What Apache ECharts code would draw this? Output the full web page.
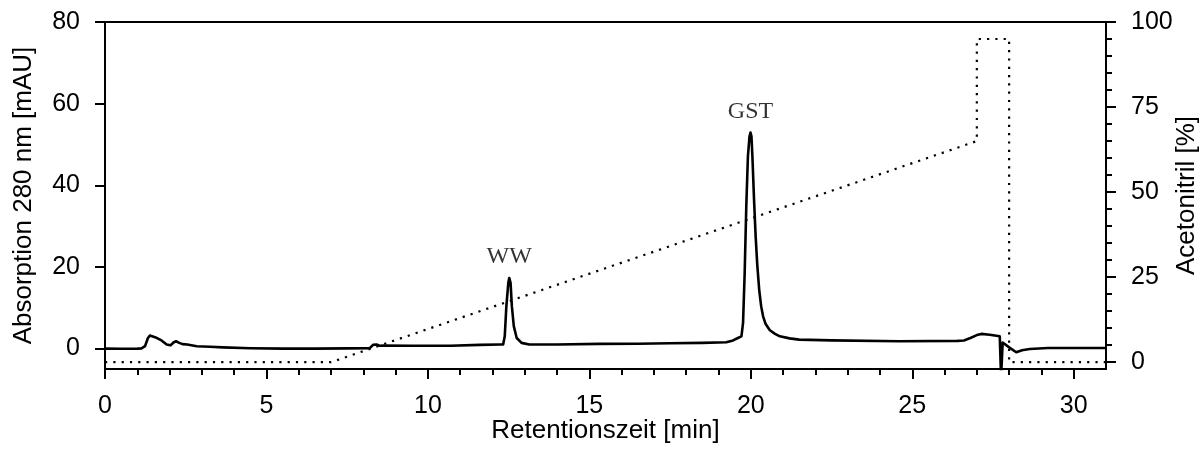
<!DOCTYPE html>
<html><head><meta charset="utf-8">
<script src="https://cdn.jsdelivr.net/npm/echarts@6/dist/echarts.min.js"></script>
<style>html,body{margin:0;padding:0;background:#fff}#c{width:1201px;height:452px}</style>
</head><body><div id="c"></div>
<script>
// Chromatogram trace: retention time [min] and absorption 280 nm [mAU]
const timeMin = [0,0.5,1.0,1.13,1.24,1.33,1.39,1.55,1.75,1.91,2.03,2.12,2.2,2.3,2.4,2.55,2.84,3.25,3.65,4.5,5.5,6.5,7.5,8.2,8.3,8.41,8.5,8.56,8.62,9.5,10.7,11.6,12.23,12.33,12.38,12.43,12.49,12.52,12.56,12.6,12.66,12.75,12.9,13.14,14.0,15.3,16.5,17.5,18.5,19.24,19.45,19.6,19.71,19.76,19.81,19.86,19.91,19.96,19.99,20.02,20.05,20.1,20.15,20.2,20.26,20.32,20.38,20.46,20.59,20.75,20.9,21.2,21.5,22.5,24.6,26.4,26.6,26.8,27.0,27.14,27.4,27.71,27.74,27.75,27.79,27.8,28.0,28.22,28.4,28.64,29.2,31];
const absorbance = [0,-0.05,0,0.05,0.6,2.6,3.2,2.8,2.0,1.0,0.8,1.5,1.8,1.4,1.1,1.0,0.57,0.45,0.3,0.1,0,0,0.05,0.1,0.9,1.0,0.7,1.1,0.75,0.7,0.7,0.9,1.0,1.0,3.0,10.4,16.1,17.3,16.1,10.4,5.5,2.6,1.4,1.0,1.0,1.15,1.2,1.3,1.4,1.55,2.0,2.6,3.0,6.3,18.5,34.8,47,52.0,52.9,52.0,47,36.5,27.5,20.5,14.4,10.4,7.9,6.0,4.5,3.6,3.0,2.5,2.2,2.0,1.8,1.9,2.0,2.6,3.3,3.6,3.4,3.0,3.0,-7,-7,1.5,0.3,-0.9,-0.4,-0.1,0.15,0.15];
// Gradient program: acetonitrile [%]
const gradTime = [0,7,27,27,28,28,31];
const gradPct = [0,0,65,95,95,0,0];
// Peak annotations
const peakNames = ['WW','GST'];
const peakTime = [12.52,19.99];
const peakAbs = [17.3,52.9];
// Tick values
const xMajorTicks = [0,5,10,15,20,25,30];
const xMinorTicks = [1,2,3,4,6,7,8,9,11,12,13,14,16,17,18,19,21,22,23,24,26,27,28,29];
const leftTicks = [0,20,40,60,80];
const rightTicks = [0,25,50,75,100];
const rightMinorTicks = [5,10,15,20,30,35,40,45,55,60,65,70,80,85,90,95];

const SANS = 'Liberation Sans, Arial, sans-serif';
const black = '#000';
const lineSt = {color: black, width: 2};

const chart = echarts.init(document.getElementById('c'), null, {renderer: 'canvas'});
chart.setOption({
  animation: false,
  backgroundColor: '#fff',
  grid: {left: 105, right: 95, top: 22, bottom: 83, show: true, borderColor: black, borderWidth: 2, outerBoundsMode: 'none', containLabel: false},
  xAxis: [
    {type: 'value', position: 'bottom', min: 0, max: 31,
     axisLine: {show: true, onZero: false, lineStyle: lineSt},
     axisTick: {show: true, inside: false, customValues: xMajorTicks, length: 10, lineStyle: lineSt},
     axisLabel: {show: true, customValues: xMajorTicks, margin: 25, fontSize: 25, color: black, fontFamily: SANS},
     splitLine: {show: false},
     name: 'Retentionszeit [min]', nameLocation: 'middle', nameGap: 49, nameMoveOverlap: false,
     nameTextStyle: {fontSize: 26, color: black, fontFamily: SANS}},
    {type: 'value', position: 'bottom', min: 0, max: 31,
     axisLine: {show: false, onZero: false},
     axisTick: {show: true, inside: false, customValues: xMinorTicks, length: 6, lineStyle: lineSt},
     axisLabel: {show: false}, splitLine: {show: false}}
  ],
  yAxis: [
    {type: 'value', position: 'left', min: -5, max: 80,
     axisLine: {show: true, onZero: false, lineStyle: lineSt},
     axisTick: {show: true, inside: false, customValues: leftTicks, length: 10, lineStyle: lineSt},
     axisLabel: {show: true, customValues: leftTicks, margin: 25, fontSize: 25, color: black, fontFamily: SANS},
     splitLine: {show: false},
     name: 'Absorption 280 nm [mAU]', nameLocation: 'middle', nameGap: 68, nameMoveOverlap: false,
     nameTextStyle: {fontSize: 26, color: black, fontFamily: SANS}},
    {type: 'value', position: 'right', min: -2, max: 100,
     axisLine: {show: true, onZero: false, lineStyle: lineSt},
     axisTick: {show: true, inside: false, customValues: rightTicks, length: 10, lineStyle: lineSt},
     axisLabel: {show: true, customValues: rightTicks, margin: 25, fontSize: 25, color: black, fontFamily: SANS},
     splitLine: {show: false},
     name: 'Acetonitril [%]', nameLocation: 'middle', nameGap: 68, nameMoveOverlap: false,
     nameTextStyle: {fontSize: 26, color: black, fontFamily: SANS}},
    {type: 'value', position: 'right', min: -2, max: 100,
     axisLine: {show: false, onZero: false},
     axisTick: {show: true, inside: false, customValues: rightMinorTicks, length: 6, lineStyle: lineSt},
     axisLabel: {show: false}, splitLine: {show: false}}
  ],
  series: [
    {type: 'line', xAxisIndex: 0, yAxisIndex: 1, showSymbol: false, symbol: 'none',
     data: gradTime.map((t, i) => [t, gradPct[i]]),
     lineStyle: {color: black, width: 2.2, type: [2.2, 6.1], cap: 'butt'}, z: 2},
    {type: 'line', xAxisIndex: 0, yAxisIndex: 0, showSymbol: false, symbol: 'none',
     data: timeMin.map((t, i) => [t, absorbance[i]]),
     lineStyle: {color: black, width: 2.6, join: 'round'}, z: 3},
    {type: 'scatter', xAxisIndex: 0, yAxisIndex: 0, symbolSize: 0,
     data: peakNames.map((n, i) => ({name: n, value: [peakTime[i], peakAbs[i]]})),
     label: {show: true, position: 'top', distance: 9, formatter: '{b}',
             fontFamily: 'Liberation Serif, Times New Roman, serif', fontSize: 24, color: '#000'}, z: 4}
  ]
});
</script>
</body></html>
